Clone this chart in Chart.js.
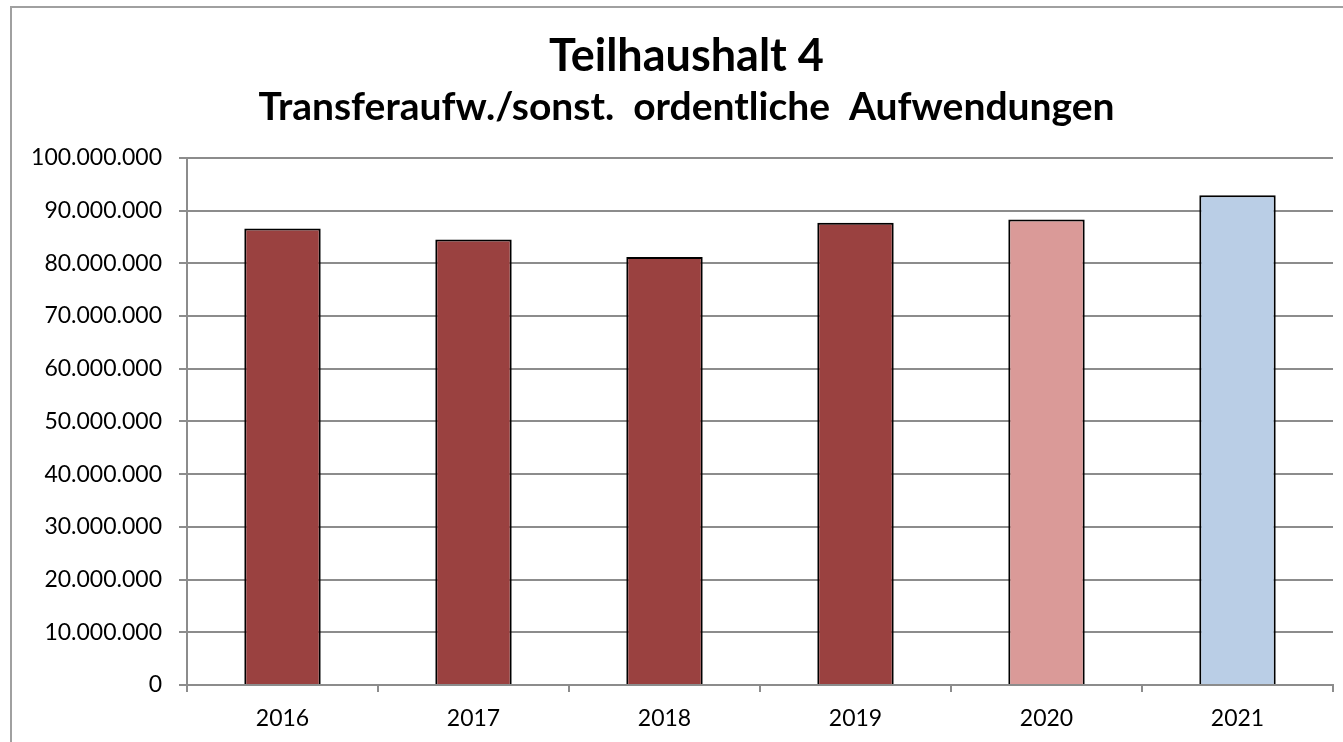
<!DOCTYPE html>
<html>
<head>
<meta charset="utf-8">
<script src="https://cdn.jsdelivr.net/npm/chart.js@4"></script>
<style>
    html, body { margin: 0; padding: 0; background: #fff; overflow: hidden; }
    #frame {
        position: absolute; left: 10px; top: 6px;
        width: 1356px; height: 760px;
        border: 2px solid #a0a0a0; box-sizing: border-box;
    }
    #chartBox { position: absolute; left: 0; top: 0; width: 1352px; height: 734px; }
</style>
</head>
<body>
<div id="frame"><div id="chartBox"><canvas id="th4Chart"></canvas></div></div>
<script>
// --- Data ---
const years = ['2016', '2017', '2018', '2019', '2020', '2021'];
const amounts = [86600000, 84500000, 81200000, 87700000, 88300000, 92900000];
const barColors = ['#9a4140', '#9a4140', '#9a4140', '#9a4140', '#da9a98', '#bacee6'];
const yTicks = [0, 10000000, 20000000, 30000000, 40000000, 50000000, 60000000, 70000000, 80000000, 90000000, 100000000];

const titleText = 'Teilhaushalt 4';
const subtitleText = 'Transferaufw./sonst.  ordentliche  Aufwendungen';

function formatDE(value) {
    // 100000000 -> 100.000.000
    return String(Math.round(value)).replace(/\B(?=(\d{3})+(?!\d))/g, '.');
}

const fontFamily = 'Lato, "Open Sans", sans-serif';

// the original centres its titles a bit right of the canvas middle
const shiftTitles = {
    id: 'shiftTitles',
    afterLayout(chart) {
        chart.boxes.forEach(box => {
            if (box.position === 'top') {
                box.left += 14;
                box.right += 14;
            }
        });
    }
};

new Chart(document.getElementById('th4Chart'), {
    type: 'bar',
    data: {
        labels: years,
        datasets: [{
            data: amounts,
            backgroundColor: barColors,
            borderColor: '#000',
            borderWidth: 2,
            borderSkipped: 'start',
            categoryPercentage: 1.0,
            barPercentage: 0.4
        }]
    },
    options: {
        responsive: true,
        maintainAspectRatio: false,
        animation: false,
        layout: { padding: { left: 0, right: 31, top: 0, bottom: 0 } },
        plugins: {
            legend: { display: false },
            tooltip: { enabled: false },
            title: {
                display: true,
                text: titleText,
                color: '#000',
                font: { family: fontFamily, size: 45, weight: 'bold' },
                padding: { top: 21, bottom: 0 }
            },
            subtitle: {
                display: true,
                text: subtitleText,
                color: '#000',
                font: { family: fontFamily, size: 39, weight: 'bold' },
                padding: { top: 1, bottom: 27 }
            }
        },
        scales: {
            x: {
                grid: {
                    drawOnChartArea: false,
                    drawTicks: true,
                    tickLength: 7,
                    color: '#8c8c8c',
                    lineWidth: 2,
                    offset: true
                },
                border: { color: '#8c8c8c', width: 2 },
                ticks: {
                    color: '#000',
                    font: { family: fontFamily, size: 23 },
                    padding: 13,
                    maxRotation: 0
                },
                afterFit: (scale) => { scale.height = 57; }
            },
            y: {
                min: 0,
                max: 100000000,
                afterBuildTicks: (scale) => { scale.ticks = yTicks.map(v => ({ value: v })); },
                grid: {
                    color: '#8c8c8c',
                    lineWidth: 2,
                    tickLength: 8
                },
                border: { color: '#8c8c8c', width: 2 },
                ticks: {
                    color: '#000',
                    font: { family: fontFamily, size: 23 },
                    padding: 17,
                    callback: (value) => formatDE(value)
                },
                afterFit: (scale) => { scale.width = 175; }
            }
        }
    },
    plugins: [shiftTitles]
});
</script>
</body>
</html>
